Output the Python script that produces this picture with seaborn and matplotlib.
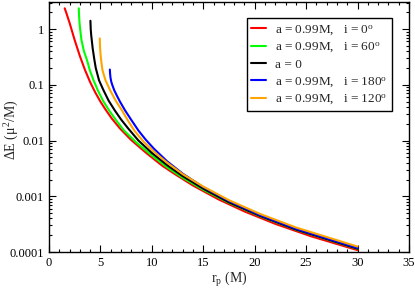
import numpy as np
import pandas as pd
import matplotlib
matplotlib.use('Agg')
import matplotlib.pyplot as plt
import matplotlib.ticker as mticker
import seaborn as sns

# values
rp_red = [1.53, 1.7, 2.0, 2.5, 3.0, 3.5, 4.0, 4.5, 5.0, 5.5, 6.1, 6.9, 8.0, 9.5, 11, 12.1, 14, 16.5, 19, 22, 25.5, 30]
de_red = [2.36, 1.92, 1.3, 0.634, 0.33, 0.185, 0.112, 0.073, 0.05, 0.036, 0.025, 0.0165, 0.0102, 0.0059, 0.00355, 0.0026, 0.00156, 0.000877, 0.000535, 0.00032, 0.000191, 0.000108]

rp_green = [2.9, 2.93, 2.97, 3.03, 3.16, 3.4, 3.7, 3.97, 4.3, 4.75, 5.25, 5.85, 6.5, 7.3, 8.5, 10, 11.5, 13, 15, 17.5, 20.5, 24, 30]
de_green = [2.36, 1.7, 1.3, 1.0, 0.634, 0.4, 0.277, 0.183, 0.125, 0.0795, 0.052, 0.0347, 0.0235, 0.0151, 0.0092, 0.0054, 0.0033, 0.00215, 0.00131, 0.000764, 0.000441, 0.000252, 0.000114]

rp_black = [4.03, 4.06, 4.1, 4.16, 4.25, 4.42, 4.55, 4.87, 5.3, 5.8, 6.4, 7.0, 7.7, 8.7, 10, 11.5, 13, 15, 17.5, 20.5, 24, 30]
de_black = [1.41, 1.0, 0.8, 0.634, 0.45, 0.277, 0.2, 0.12, 0.08, 0.052, 0.0347, 0.024, 0.0165, 0.01, 0.006, 0.0036, 0.0023, 0.00137, 0.00078, 0.000447, 0.000254, 0.000115]

rp_blue = [5.92, 5.94, 5.98, 6.05, 6.15, 6.35, 6.6, 6.9, 7.4, 8.0, 8.7, 9.4, 10.2, 11.5, 13, 15, 17.5, 20.5, 24, 30]
de_blue = [0.188, 0.16, 0.135, 0.115, 0.1, 0.0795, 0.064, 0.05, 0.0347, 0.0235, 0.0151, 0.0104, 0.00715, 0.00422, 0.00255, 0.00146, 0.00082, 0.00046, 0.000261, 0.000118]

rp_orange = [4.94, 4.96, 5.0, 5.07, 5.2, 5.5, 5.95, 6.5, 7.1, 7.7, 8.3, 9.16, 10.2, 11.5, 13, 15, 17.5, 20.5, 24, 30]
de_orange = [0.68, 0.5, 0.38, 0.277, 0.183, 0.12, 0.0795, 0.0515, 0.0347, 0.0225, 0.0151, 0.0097, 0.0063, 0.004, 0.0025, 0.00149, 0.00085, 0.000484, 0.000276, 0.000125]

labels = [r'a = 0.99M,   i = 0$\mathregular{^o}$',
          r'a = 0.99M,   i = 60$\mathregular{^o}$',
          'a = 0',
          r'a = 0.99M,   i = 180$\mathregular{^o}$',
          r'a = 0.99M,   i = 120$\mathregular{^o}$']
colors = ['#ff0000', '#00ff00', '#000000', '#0000ff', '#ffa500']

series = [(rp_red, de_red), (rp_green, de_green), (rp_black, de_black),
          (rp_blue, de_blue), (rp_orange, de_orange)]
df = pd.concat([pd.DataFrame({'rp': r, 'dE': e, 'curve': lab})
                for (r, e), lab in zip(series, labels)], ignore_index=True)

sns.set_theme(style='ticks')
plt.rcParams['font.family'] = ['Liberation Serif', 'DejaVu Serif']
plt.rcParams['mathtext.fontset'] = 'custom'
plt.rcParams['mathtext.rm'] = 'Liberation Serif'

fig = plt.figure(figsize=(4.15, 2.91), dpi=100)
ax = fig.add_axes([0.118, 0.134, 0.8675, 0.859])

sns.lineplot(data=df, x='rp', y='dE', hue='curve', hue_order=labels, palette=colors,
             estimator=None, sort=False, linewidth=1.5, ax=ax)

ax.set_yscale('log')
ax.set_xlim(0, 35)
ax.set_ylim(1e-4, 3.06)
ax.xaxis.set_major_locator(mticker.MultipleLocator(5))
ax.xaxis.set_minor_locator(mticker.MultipleLocator(1))
ax.yaxis.set_major_locator(mticker.FixedLocator([1e-4, 1e-3, 1e-2, 1e-1, 1]))
ax.yaxis.set_major_formatter(mticker.FixedFormatter(['0.0001', '0.001', '0.01', '0.1', '1']))
ax.yaxis.set_minor_locator(mticker.LogLocator(base=10, subs=np.arange(2, 10)))
ax.yaxis.set_minor_formatter(mticker.NullFormatter())

ax.tick_params(which='both', direction='in', top=True, right=True, colors='black', labelsize=9, width=0.8)
ax.tick_params(which='major', length=5)
ax.tick_params(which='minor', length=2.5)
for s in ax.spines.values():
    s.set_color('black')
    s.set_linewidth(1.0)

ax.set_xlabel(r'r$\mathregular{_p}$ (M)', fontsize=10, labelpad=1)
ax.set_ylabel(r'$\Delta$E ($\mathregular{\mu^2}$/M)', fontsize=10)
ax.yaxis.set_label_coords(-0.077, 0.49)

handles, labs = ax.get_legend_handles_labels()
leg = ax.legend(handles, labs, loc='upper right', bbox_to_anchor=(0.953, 0.936), fontsize=9.5,
                frameon=True, fancybox=False, edgecolor='black', framealpha=1,
                handlelength=1.1, handletextpad=0.7, labelspacing=0.3, borderpad=0.35,
                borderaxespad=0)
leg.get_frame().set_linewidth(1.0)

plt.savefig('out.png', dpi=100)
plt.close()
